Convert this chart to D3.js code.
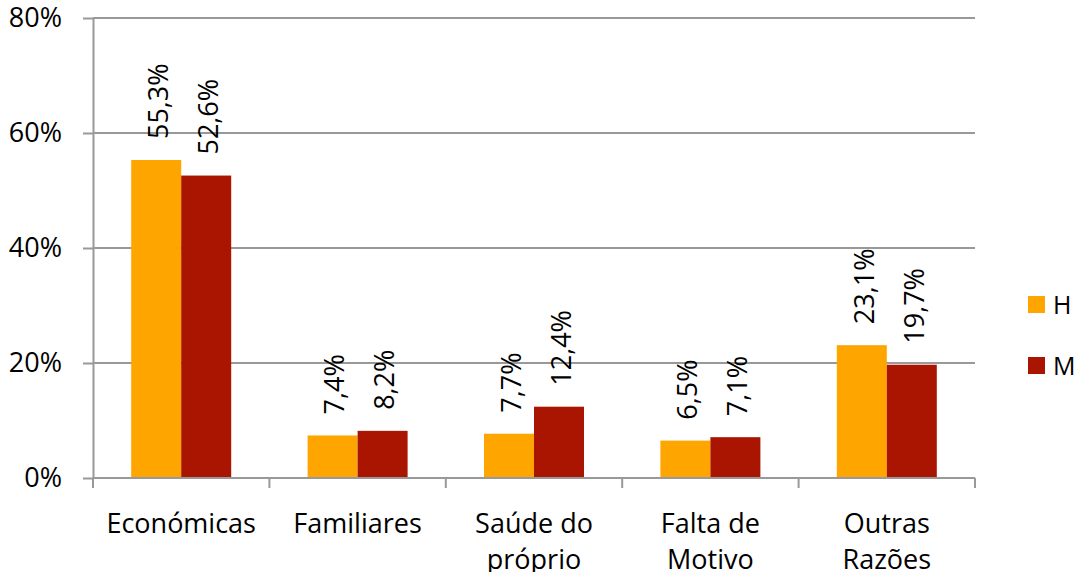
<!DOCTYPE html>
<html>
<head>
<meta charset="utf-8">
<script src="https://cdn.jsdelivr.net/npm/d3@7"></script>
<style>
  body { margin: 0; background: #fff; overflow: hidden; }
  text { font-family: "Open Sans", sans-serif; fill: #000; }
</style>
</head>
<body>
<div id="chart"></div>
<script>
const categories = [['Económicas'], ['Familiares'], ['Saúde do', 'próprio'], ['Falta de', 'Motivo'], ['Outras', 'Razões']];
const series = ['H', 'M'];
const valuesH = [55.3, 7.4, 7.7, 6.5, 23.1];
const valuesM = [52.6, 8.2, 12.4, 7.1, 19.7];
const labelsH = ['55,3%', '7,4%', '7,7%', '6,5%', '23,1%'];
const labelsM = ['52,6%', '8,2%', '12,4%', '7,1%', '19,7%'];
const yTicks = [0, 20, 40, 60, 80];
const colors = { H: '#FFA500', M: '#A91500' };

const width = 1081, height = 572;
const margin = { top: 18, right: 106, bottom: 94, left: 93 };
const innerW = width - margin.left - margin.right;
const innerH = height - margin.top - margin.bottom;
const fs = 27;

const svg = d3.select('#chart').append('svg')
  .attr('width', width)
  .attr('height', height);

const g = svg.append('g')
  .attr('transform', `translate(${margin.left},${margin.top})`);

const x0 = d3.scaleBand().domain(d3.range(categories.length)).range([0, innerW]).padding(0);
const x1 = d3.scaleBand().domain(series).range([0, x0.bandwidth()]).paddingInner(0).paddingOuter(0.764);
const y = d3.scaleLinear().domain([0, 80]).range([innerH, 0]);

// gridlines
g.selectAll('.grid').data(yTicks.filter(d => d > 0)).enter().append('line')
  .attr('x1', 0).attr('x2', innerW)
  .attr('y1', d => y(d)).attr('y2', d => y(d))
  .attr('stroke', '#999').attr('stroke-width', 2);

// y axis
const yAxis = g.append('g')
  .call(d3.axisLeft(y).tickValues(yTicks).tickSize(10).tickSizeOuter(0).tickFormat(d => d + '%'));
yAxis.select('.domain').attr('stroke', '#999').attr('stroke-width', 2);
yAxis.selectAll('.tick line').attr('stroke', '#999').attr('stroke-width', 2);
yAxis.selectAll('.tick text').attr('x', -31).attr('font-size', fs).attr('font-family', '"Open Sans", sans-serif');

// bars
const rows = categories.map((c, i) => ({ i, H: valuesH[i], M: valuesM[i], lH: labelsH[i], lM: labelsM[i] }));
const grp = g.selectAll('.cat').data(rows).enter().append('g')
  .attr('transform', d => `translate(${x0(d.i)},0)`);

grp.selectAll('rect').data(d => series.map(s => ({ s, v: d[s] }))).enter().append('rect')
  .attr('x', d => x1(d.s))
  .attr('y', d => y(d.v))
  .attr('width', x1.bandwidth())
  .attr('height', d => innerH - y(d.v))
  .attr('fill', d => colors[d.s]);

grp.selectAll('.lbl').data(d => series.map(s => ({ s, v: d[s], t: d['l' + s] }))).enter().append('text')
  .attr('transform', d => `translate(${x1(d.s) + x1.bandwidth() / 2 + 2},${y(d.v) - 21}) rotate(-90)`)
  .attr('dy', '0.36em')
  .attr('font-size', fs)
  .text(d => d.t);

// x axis
const xAxisG = g.append('g').attr('transform', `translate(0,${innerH})`);
xAxisG.append('line').attr('x1', 0).attr('x2', innerW).attr('stroke', '#999').attr('stroke-width', 2);
xAxisG.selectAll('.xt').data(d3.range(categories.length + 1)).enter().append('line')
  .attr('x1', d => d < categories.length ? x0(d) : innerW)
  .attr('x2', d => d < categories.length ? x0(d) : innerW)
  .attr('y1', 0).attr('y2', 10)
  .attr('stroke', '#999').attr('stroke-width', 2);

const xl = xAxisG.selectAll('.xl').data(categories).enter().append('text')
  .attr('text-anchor', 'middle')
  .attr('font-size', fs)
  .attr('x', (d, i) => x0(i) + x0.bandwidth() / 2)
  .attr('y', 55);
xl.selectAll('tspan').data(d => d).enter().append('tspan')
  .attr('x', function () { return this.parentNode.getAttribute('x'); })
  .attr('dy', (d, i) => i === 0 ? 0 : 36)
  .text(d => d);

// legend
const legend = svg.append('g').attr('transform', 'translate(1028,296)');
const li = legend.selectAll('g').data(series).enter().append('g')
  .attr('transform', (d, i) => `translate(0,${i * 61})`);
li.append('rect').attr('width', 17).attr('height', 17).attr('fill', d => colors[d]);
li.append('text').attr('x', 25).attr('y', 9).attr('dy', '0.36em')
  .attr('font-family', '"Liberation Sans", Arial, sans-serif')
  .attr('font-size', 25).text(d => d);
</script>
</body>
</html>
